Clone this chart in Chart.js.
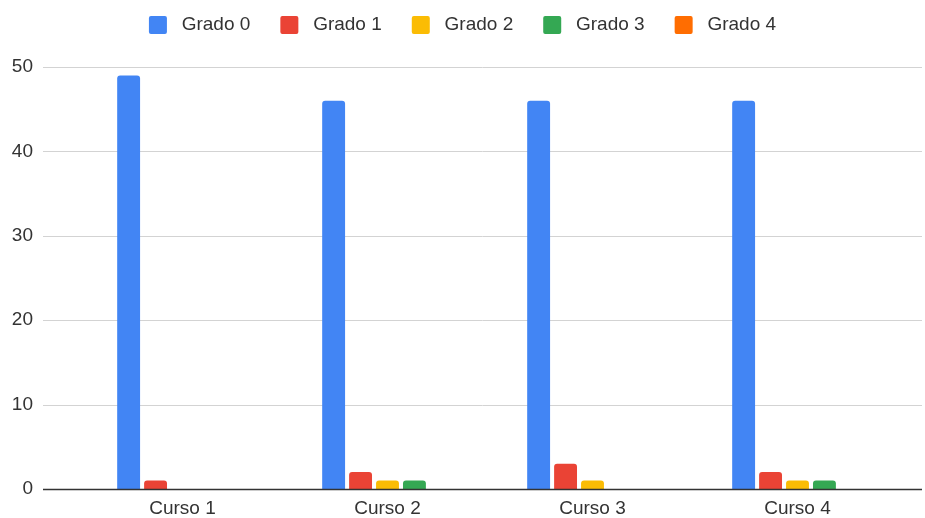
<!DOCTYPE html>
<html>
<head>
<meta charset="utf-8">
<script src="https://cdn.jsdelivr.net/npm/chart.js@4"></script>
<style>
    body { margin: 0; background: #fff; }
    #wrap { width: 925px; height: 518px; position: relative; }
</style>
</head>
<body>
<div id="wrap"><canvas id="myChart" width="925" height="518"></canvas></div>
<script>
// Data
const categories = ["Curso 1", "Curso 2", "Curso 3", "Curso 4"];
const seriesNames = ["Grado 0", "Grado 1", "Grado 2", "Grado 3", "Grado 4"];
const grado0 = [49, 46, 46, 46];
const grado1 = [1, 2, 3, 2];
const grado2 = [0, 1, 1, 1];
const grado3 = [0, 1, 0, 1];
const grado4 = [0, 0, 0, 0];
const yTicks = [0, 10, 20, 30, 40, 50];

const colors = ["#4285F4", "#EA4335", "#FBBC04", "#34A853", "#FF6D01"];
const allSeries = [grado0, grado1, grado2, grado3, grado4];

const fontFamily = "'Liberation Sans', Arial, sans-serif";
const textColor = "#333";

// Gridlines stretch past the plot area like the sheet chart does
const wideGrid = {
    id: "wideGrid",
    beforeDatasetsDraw(chart) {
        const ctx = chart.ctx;
        const y = chart.scales.y;
        ctx.save();
        ctx.strokeStyle = "#d3d3d3";
        ctx.lineWidth = 1;
        yTicks.forEach((t) => {
            if (t === 0) return;
            const py = Math.round(y.getPixelForValue(t)) + 0.5;
            ctx.beginPath();
            ctx.moveTo(43, py);
            ctx.lineTo(922, py);
            ctx.stroke();
        });
        ctx.restore();
    },
    afterDatasetsDraw(chart) {
        const ctx = chart.ctx;
        const py = Math.round(chart.scales.y.getPixelForValue(0)) + 0.5;
        ctx.save();
        ctx.strokeStyle = "#333333";
        ctx.lineWidth = 1.5;
        ctx.beginPath();
        ctx.moveTo(43, py);
        ctx.lineTo(922, py);
        ctx.stroke();
        ctx.restore();
    },
};

const ctx = document.getElementById("myChart").getContext("2d");
new Chart(ctx, {
    type: "bar",
    data: {
        labels: categories,
        datasets: seriesNames.map((name, i) => ({
            label: name,
            data: allSeries[i],
            backgroundColor: colors[i],
            borderRadius: 3,
            borderSkipped: "start",
            categoryPercentage: 0.657,
            barPercentage: 0.85,
        })),
    },
    options: {
        responsive: false,
        animation: false,
        devicePixelRatio: 1,
        layout: { padding: { left: 0, right: 0, top: -14.5, bottom: 0 } },
        plugins: {
            // empty title used as a spacer between legend and plot
            title: {
                display: true,
                text: "",
                weight: 500,
                font: { size: 1, lineHeight: 1 },
                padding: { top: 21.5, bottom: 0 },
            },
            legend: {
                position: "top",
                labels: {
                    boxWidth: 18,
                    boxHeight: 18,
                    padding: 30,
                    color: textColor,
                    useBorderRadius: true,
                    borderRadius: 2,
                    font: { family: fontFamily, size: 19 },
                    generateLabels(chart) {
                        const items = Chart.defaults.plugins.legend.labels.generateLabels(chart);
                        items.forEach((it) => { it.text = " " + it.text; });
                        return items;
                    },
                },
            },
            tooltip: { enabled: false },
        },
        scales: {
            x: {
                grid: { display: false, drawTicks: false },
                border: { display: false },
                ticks: {
                    color: textColor,
                    padding: 8,
                    font: { family: fontFamily, size: 19 },
                },
                afterFit(scale) { scale.height = 29; },
            },
            y: {
                min: 0,
                max: 50,
                grid: { display: false, drawTicks: false },
                border: { display: false },
                ticks: {
                    stepSize: 10,
                    color: textColor,
                    padding: 47,
                    font: { family: fontFamily, size: 19 },
                },
                afterFit(scale) {
                    scale.width = 80;
                    scale.paddingTop = 0;
                    scale.paddingBottom = 0;
                },
            },
            // empty right axis: keeps the plot's right margin
            yRight: {
                type: "linear",
                position: "right",
                display: true,
                grid: { display: false, drawTicks: false },
                border: { display: false },
                ticks: { display: false },
                afterFit(scale) {
                    scale.width = 25;
                    scale.paddingTop = 0;
                    scale.paddingBottom = 0;
                },
            },
        },
    },
    plugins: [wideGrid],
});
</script>
</body>
</html>
